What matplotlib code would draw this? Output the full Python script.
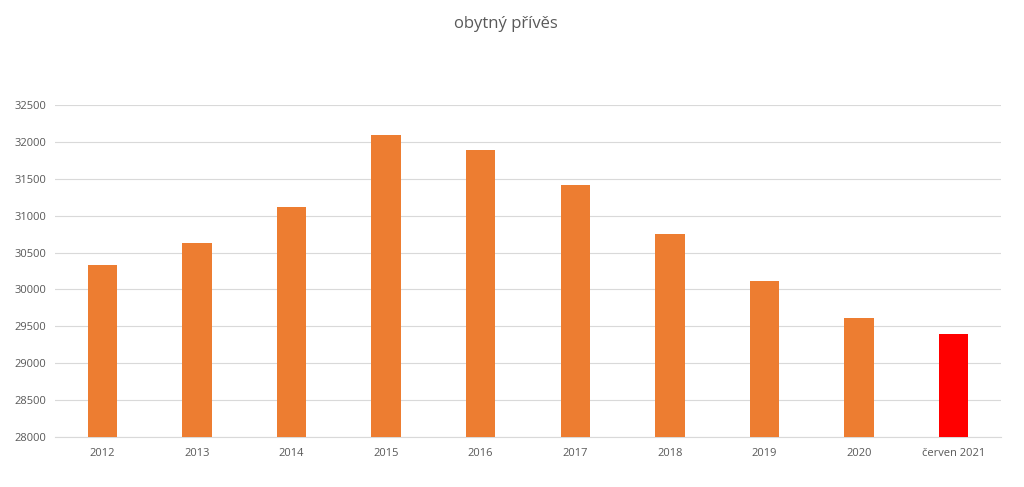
import numpy as np
import matplotlib.pyplot as plt

# data
years = ['2012', '2013', '2014', '2015', '2016', '2017', '2018', '2019', '2020', 'červen 2021']
counts = [30330, 30625, 31120, 32100, 31890, 31415, 30750, 30115, 29610, 29400]
colors = ['#ED7D31'] * 9 + ['#FF0000']

plt.rcParams['font.family'] = ['Open Sans', 'DejaVu Sans']

fig = plt.figure(figsize=(10.24, 4.87), dpi=100)
ax = fig.add_axes([0.0537, 0.1027, 0.9238, 0.6817])

x = np.arange(len(years))
ax.bar(x, counts, width=0.31, color=colors, zorder=3)

ax.set_ylim(28000, 32500)
ax.set_yticks(np.arange(28000, 32501, 500))
ax.set_xlim(-0.5, len(years) - 0.5)
ax.set_xticks(x)
ax.set_xticklabels(years)

ax.grid(axis='y', color='#d9d9d9', linewidth=0.8, zorder=0)
for side in ['top', 'right', 'left']:
    ax.spines[side].set_visible(False)
ax.spines['bottom'].set_color('#d9d9d9')
ax.tick_params(axis='both', length=0, colors='#595959', labelsize=8)
ax.tick_params(axis='x', pad=8)
ax.tick_params(axis='y', pad=6)

fig.text(0.494, 0.951, 'obytný přívěs', ha='center', va='center', fontsize=12, color='#595959')

fig.savefig('out.png', dpi=100)
